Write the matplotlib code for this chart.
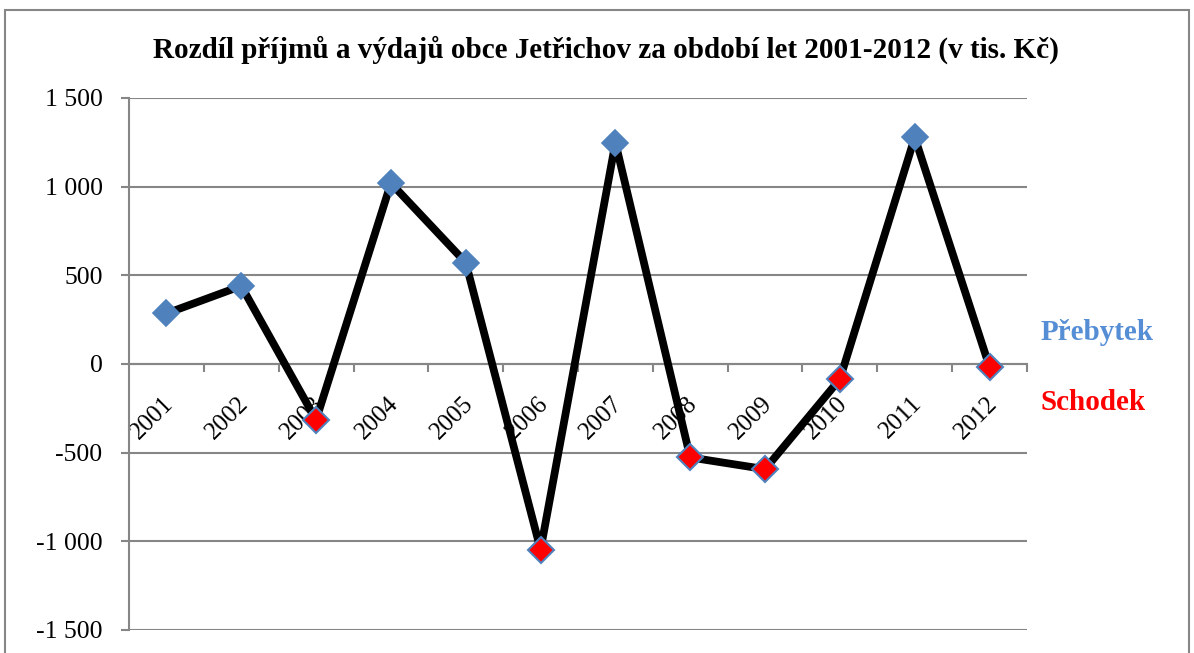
import matplotlib
matplotlib.use("Agg")
import matplotlib.pyplot as plt
import matplotlib.transforms as mtransforms
from matplotlib.ticker import FixedLocator, FuncFormatter
from matplotlib.patches import Rectangle

# Budget balance of the municipality (thousand CZK)
years = ["2001", "2002", "2003", "2004", "2005", "2006",
         "2007", "2008", "2009", "2010", "2011", "2012"]
balance = [285, 440, -315, 1020, 572, -1047,
           1248, -527, -593, -85, 1278, -17]

title = "Rozdíl příjmů a výdajů obce Jetřichov za období let 2001-2012 (v tis. Kč)"
label_surplus = "Přebytek"
label_deficit = "Schodek"

blue = "#4F81BD"
red = "#FF0000"
grey = "#868686"

plt.rcParams["font.family"] = ["Liberation Serif", "DejaVu Serif"]

fig = plt.figure(figsize=(11.94, 6.53), dpi=100)
fig.patches.append(Rectangle((5 / 1194, -0.1), 1184 / 1194, 1.1 - 10 / 653,
                             transform=fig.transFigure, fill=False,
                             edgecolor=grey, linewidth=1.5))

ax = fig.add_axes([129 / 1194, 1 - 630 / 653, (1027 - 129) / 1194, (630 - 98) / 653])
x = list(range(len(years)))

ax.plot(x, balance, color="black", linewidth=5.6, zorder=3,
        solid_joinstyle="round")
for xi, v in zip(x, balance):
    if v >= 0:
        ax.plot(xi, v, marker="D", markersize=13, color=blue,
                markeredgecolor=blue, markeredgewidth=1.2, zorder=4)
    else:
        ax.plot(xi, v, marker="D", markersize=13, color=red,
                markeredgecolor=blue, markeredgewidth=1.5, zorder=4)

ax.set_xlim(-0.5, len(years) - 0.5)
ax.set_ylim(-1500, 1500)
ax.set_axisbelow(True)

ax.yaxis.set_major_locator(FixedLocator([-1500, -1000, -500, 0, 500, 1000, 1500]))
ax.yaxis.set_major_formatter(FuncFormatter(
    lambda v, p: ("-" if v < 0 else "") + f"{abs(int(v)):,}".replace(",", " ")))
ax.grid(axis="y", color=grey, linewidth=1.5)
ax.tick_params(axis="y", length=6, width=1.5, color=grey, labelsize=18.5, pad=13)

ax.spines["bottom"].set_position(("data", 0))
for s in ["top", "right"]:
    ax.spines[s].set_visible(False)
for s in ["left", "bottom"]:
    ax.spines[s].set_color(grey)
    ax.spines[s].set_linewidth(1.5)
    ax.spines[s].set_zorder(0.6)

ax.set_xticks(x)
ax.set_xticklabels(years, rotation=45, ha="right", va="center",
                   rotation_mode="anchor", fontsize=18)
ax.set_xticks([i - 0.5 for i in range(1, len(years) + 1)], minor=True)
ax.tick_params(axis="x", which="major", length=0, pad=27)
ax.tick_params(axis="x", which="minor", length=6, width=1.5, color=grey, direction="out")
shift = mtransforms.ScaledTranslation(4 / 100, 1 / 100, fig.dpi_scale_trans)
for lbl in ax.get_xticklabels():
    lbl.set_transform(lbl.get_transform() + shift)

fig.text(0.5 * (152 + 1060) / 1194, 1 - 50 / 653, title, ha="center", va="center",
         fontsize=21, fontweight="bold")
fig.text(1041 / 1194, 1 - 333 / 653, label_surplus, ha="left", va="center",
         fontsize=21, fontweight="bold", color="#558ED5")
fig.text(1041 / 1194, 1 - 402 / 653, label_deficit, ha="left", va="center",
         fontsize=21, fontweight="bold", color=red)

fig.savefig("out.png", dpi=100)
